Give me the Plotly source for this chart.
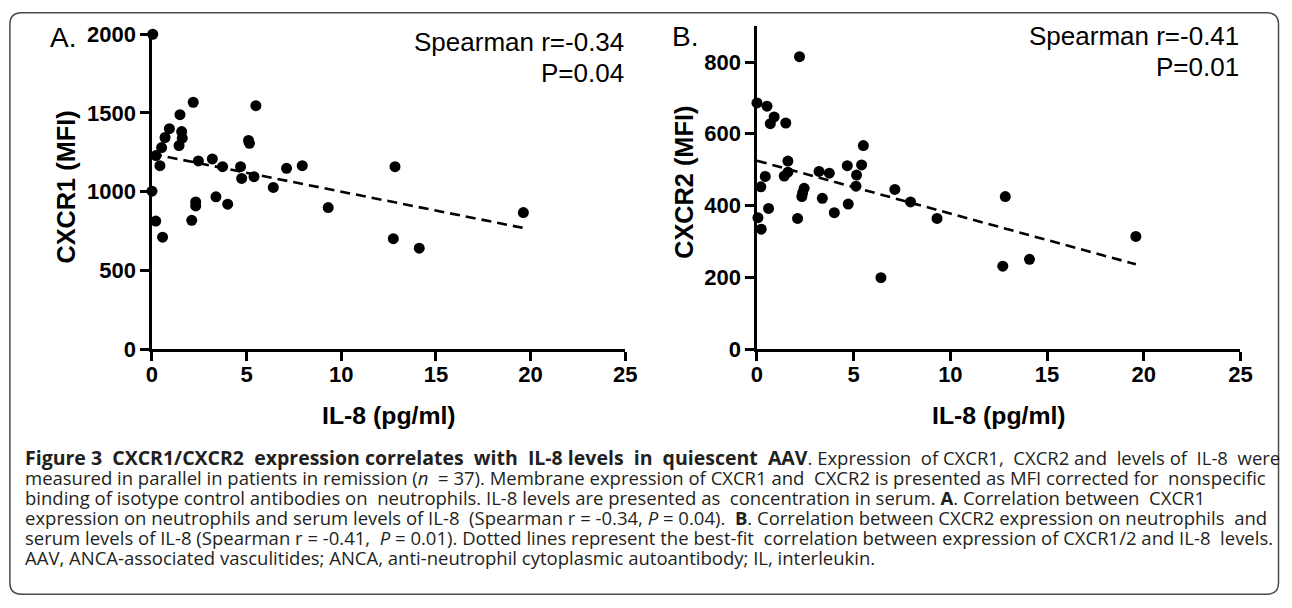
import plotly.graph_objects as go

# ---------------- data ----------------
il8_A = [0.04, 0.0, 0.2, 0.56, 0.21, 0.42, 0.51, 0.69, 0.92, 1.48, 1.57, 1.6, 1.43,
         2.18, 2.45, 2.31, 2.31, 2.1, 3.19, 3.38, 3.73, 4.0, 4.68, 4.74, 5.1, 5.15,
         5.39, 5.49, 6.41, 7.11, 7.94, 9.31, 12.84, 12.75, 14.12, 19.62]
cxcr1_mfi = [2000, 1003, 813, 711, 1229, 1165, 1280, 1344, 1400, 1489, 1382, 1340, 1293,
             1568, 1195, 935, 909, 818, 1208, 967, 1159, 920, 1159, 1084, 1325, 1307,
             1095, 1546, 1027, 1148, 1165, 899, 1159, 701, 641, 867]

il8_B = [2.2, 0.0, 0.52, 0.69, 0.89, 1.49, 1.6, 1.41, 1.6, 0.43, 0.2, 0.6, 0.05, 0.22,
         2.1, 2.32, 2.44, 2.36, 3.21, 3.38, 3.74, 4.0, 4.67, 4.72, 5.15, 5.12, 5.41,
         5.5, 6.41, 7.13, 7.94, 9.31, 12.84, 12.71, 14.09, 19.59]
cxcr2_mfi = [815, 686, 677, 628, 647, 630, 524, 482, 493, 481, 452, 392, 366, 334,
             364, 425, 448, 435, 495, 420, 490, 380, 511, 404, 485, 454, 513,
             567, 199, 445, 410, 364, 425, 231, 250, 314]

# best-fit lines (intercept, slope)
fitA_intercept, fitA_slope = 1240, -24.0
fitB_intercept, fitB_slope = 525, -14.74

x_ticks = [0, 5, 10, 15, 20, 25]
yA_ticks = [0, 500, 1000, 1500, 2000]
yB_ticks = [0, 200, 400, 600, 800]

stats_A = ["Spearman r=-0.34", "P=0.04"]
stats_B = ["Spearman r=-0.41", "P=0.01"]

caption_bold = "Figure 3 CXCR1/CXCR2 expression correlates with IL-8 levels in quiescent AAV"
caption_lines = [
    ". Expression of CXCR1, CXCR2 and levels of IL-8 were",
    "measured in parallel in patients in remission (<i>n</i> = 37). Membrane expression of CXCR1 and CXCR2 is presented as MFI corrected for nonspecific",
    "binding of isotype control antibodies on neutrophils. IL-8 levels are presented as concentration in serum. <b>A</b>. Correlation between CXCR1",
    "expression on neutrophils and serum levels of IL-8 (Spearman r = -0.34, <i>P</i> = 0.04). <b>B</b>. Correlation between CXCR2 expression on neutrophils and",
    "serum levels of IL-8 (Spearman r = -0.41, <i>P</i> = 0.01). Dotted lines represent the best-fit correlation between expression of CXCR1/2 and IL-8 levels.",
    "AAV, ANCA-associated vasculitides; ANCA, anti-neutrophil cytoplasmic autoantibody; IL, interleukin.",
]

# ---------------- layout helpers ----------------
W, H = 1292, 608
# positions below are given in the reference picture's pixels; the photographed
# page comes out slightly shrunk, so map them back onto figure pixels
def rx(X):
    return (X - 6.1) / 0.9856
def ry(Y):
    return (Y - 12.8) / 0.9565
def px(X):
    return rx(X) / W
def py(Y):
    return 1 - ry(Y) / H

FONT = "Liberation Sans, Arial, sans-serif"
CAP_FONT = "Open Sans, Noto Sans, sans-serif"
NBSP = "\u00a0"

def spread(text, extra):
    """insert `extra` additional non-breaking spaces evenly into the word gaps (justify)."""
    parts = text.split(" ")
    gaps = len(parts) - 1
    if gaps <= 0 or extra <= 0:
        return text
    out = parts[0]
    for i in range(gaps):
        add = (extra * (i + 1)) // gaps - (extra * i) // gaps
        out += " " + NBSP * add + parts[i + 1]
    return out

fig = go.Figure()

fig.add_trace(go.Scatter(x=il8_A, y=cxcr1_mfi, mode="markers", xaxis="x", yaxis="y",
                         marker=dict(color="black", size=11), cliponaxis=False,
                         showlegend=False))
xa = [min(il8_A), max(il8_A)]
fig.add_trace(go.Scatter(x=xa, y=[fitA_intercept + fitA_slope * v for v in xa],
                         mode="lines", xaxis="x", yaxis="y",
                         line=dict(color="black", width=2.6, dash="10px,6px"),
                         showlegend=False))

fig.add_trace(go.Scatter(x=il8_B, y=cxcr2_mfi, mode="markers", xaxis="x2", yaxis="y2",
                         marker=dict(color="black", size=11), cliponaxis=False,
                         showlegend=False))
xb = [min(il8_B), max(il8_B)]
fig.add_trace(go.Scatter(x=xb, y=[fitB_intercept + fitB_slope * v for v in xb],
                         mode="lines", xaxis="x2", yaxis="y2",
                         line=dict(color="black", width=2.6, dash="10px,6px"),
                         showlegend=False))

axis_common = dict(showgrid=False, zeroline=False, showline=True, linecolor="black",
                   linewidth=3, ticks="outside", ticklen=8.5, tickwidth=3,
                   tickcolor="black", fixedrange=True)
tick_font = dict(family=FONT, size=22, color="black", weight="bold")

fig.update_layout(
    width=W, height=H, autosize=False,
    margin=dict(l=0, r=0, t=0, b=0, pad=0),
    paper_bgcolor="white", plot_bgcolor="white",
    xaxis=dict(domain=[px(152), px(625)], range=[0, 25], tickvals=x_ticks,
               anchor="y", tickfont=tick_font, ticklabelstandoff=-5, **axis_common),
    yaxis=dict(domain=[py(349), py(35)], range=[0, 2000], tickvals=yA_ticks,
               anchor="x", tickfont=tick_font, **axis_common),
    xaxis2=dict(domain=[px(756.7), px(1240)], range=[0, 25], tickvals=x_ticks,
                anchor="y2", tickfont=tick_font, ticklabelstandoff=-5, **axis_common),
    yaxis2=dict(domain=[py(349), py(26.9)], range=[0, 900], tickvals=yB_ticks,
                anchor="x2", tickfont=tick_font, **axis_common),
)

ann = []
# axis titles
ann.append(dict(x=px(66), y=py(187), text="<b>CXCR1 (MFI)</b>", textangle=-90,
                font=dict(family=FONT, size=25.3, color="black")))
ann.append(dict(x=px(683), y=py(183), text="<b>CXCR2 (MFI)</b>", textangle=-90,
                font=dict(family=FONT, size=25.3, color="black")))
ann.append(dict(x=px(389), y=py(415), text="<b>IL-8 (pg/ml)</b>",
                font=dict(family=FONT, size=24.8, color="black")))
ann.append(dict(x=px(999), y=py(415), text="<b>IL-8 (pg/ml)</b>",
                font=dict(family=FONT, size=24.8, color="black")))
# panel letters
ann.append(dict(x=px(63.5), y=py(38), text="A.", font=dict(family=FONT, size=28, color="black")))
ann.append(dict(x=px(684.5), y=py(37), text="B.", font=dict(family=FONT, size=28, color="black")))
# stats
SF = dict(family=FONT, size=26, color="black")
for (xr, ys, lines) in [(625.5, [42.5, 73.5], stats_A), (1240.5, [36.5, 67.5], stats_B)]:
    for yy, t in zip(ys, lines):
        ann.append(dict(x=px(xr), y=py(yy), text=t, xanchor="right", align="right", font=SF))

# caption (justified by widening word gaps)
extra_bold = 7
extra_lines = [5, 3, 3, 3, 3, 0]
lines = ["<b><span style='font-size:19.5px'>" + spread(caption_bold, extra_bold) + "</span></b>"
         + spread(caption_lines[0], extra_lines[0])]
for t, e in zip(caption_lines[1:], extra_lines[1:]):
    lines.append(spread(t, e))
for i, line in enumerate(lines):
    ann.append(dict(x=rx(25) / W - 1.5 / W, y=py(457 + 20 * i), text=line, xanchor="left",
                    align="left", font=dict(family=CAP_FONT, size=18.5, color="#231f20")))

for a in ann:
    a.setdefault("xref", "paper")
    a.setdefault("yref", "paper")
    a.setdefault("showarrow", False)
    a.setdefault("xanchor", "center")
    a.setdefault("yanchor", "middle")
fig.update_layout(annotations=ann)

# rounded border (figure pixels, as close to the picture edges as the page allows)
x0, x1, y0, y1, r = rx(10), 1290.5, 0.75, 607.2, 12
def fxp(v):
    return v / W
def fyp(v):
    return 1 - v / H
path = (f"M {fxp(x0 + r)} {fyp(y0)} L {fxp(x1 - r)} {fyp(y0)} Q {fxp(x1)} {fyp(y0)} {fxp(x1)} {fyp(y0 + r)} "
        f"L {fxp(x1)} {fyp(y1 - r)} Q {fxp(x1)} {fyp(y1)} {fxp(x1 - r)} {fyp(y1)} "
        f"L {fxp(x0 + r)} {fyp(y1)} Q {fxp(x0)} {fyp(y1)} {fxp(x0)} {fyp(y1 - r)} "
        f"L {fxp(x0)} {fyp(y0 + r)} Q {fxp(x0)} {fyp(y0)} {fxp(x0 + r)} {fyp(y0)} Z")
fig.add_shape(type="path", path=path, xref="paper", yref="paper",
              line=dict(color="#4a4a4a", width=1.5), layer="below")

fig.write_html("out.html", config={"displayModeBar": False},
               post_script="document.body.style.margin='0';document.body.style.overflow='hidden';")
